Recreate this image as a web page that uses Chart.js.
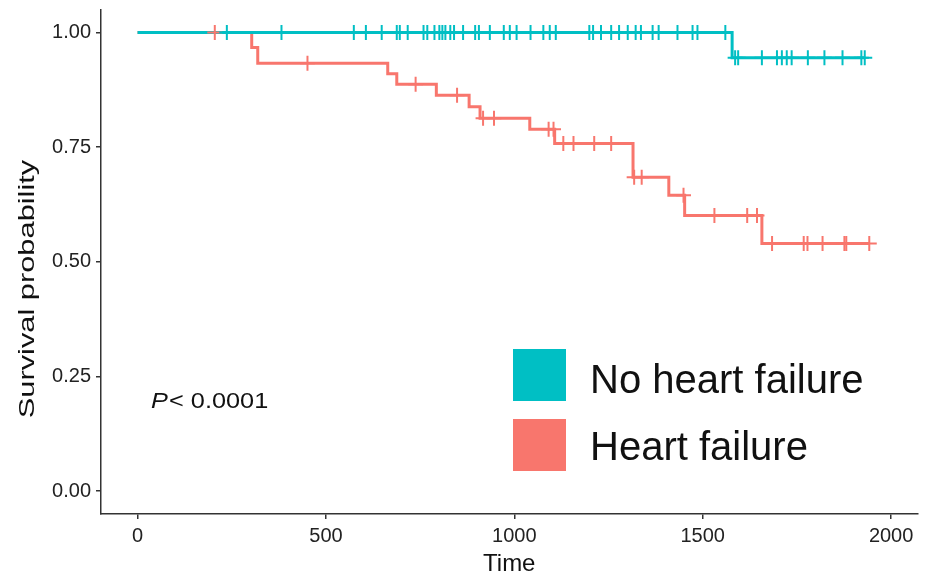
<!DOCTYPE html>
<html lang="en">
<head>
<meta charset="UTF-8" />
<title>Survival probability by heart failure</title>
<script src="https://cdn.jsdelivr.net/npm/chart.js"></script>
<style>
  body { margin: 0; background: #fff; }
  canvas { display: block; }
</style>
</head>
<body>
<canvas id="kmChart" width="927" height="576"></canvas>
<script>
// group names (legend order)
const groupNames = ["No heart failure", "Heart failure"];

// No heart failure: step times / survival after each step
const noHfStepTimes = [0, 1578];
const noHfSurvival = [1, 0.945];
const noHfEnd = 1930;
const noHfCensored = [237, 382, 574, 606, 648, 688, 696, 717, 759, 769, 788, 801, 809, 817,
  830, 840, 864, 896, 906, 935, 972, 988, 1006, 1043, 1077, 1094, 1110, 1199, 1209, 1230,
  1257, 1278, 1301, 1322, 1336, 1367, 1383, 1433, 1473, 1486, 1560, 1586, 1594, 1657, 1697,
  1710, 1723, 1736, 1779, 1823, 1871, 1921, 1930];

// Heart failure
const hfStepTimes = [0, 303, 319, 664, 688, 793, 880, 909, 1041, 1107, 1315, 1410, 1452, 1657];
const hfSurvival = [1, 0.967, 0.933, 0.910, 0.887, 0.863, 0.838, 0.813, 0.789, 0.758, 0.684, 0.645, 0.601, 0.540];
const hfEnd = 1942;
const hfCensored = [205, 451, 738, 848, 917, 946, 1091, 1104, 1130, 1157, 1212, 1257, 1318,
  1338, 1449, 1531, 1618, 1644, 1684, 1768, 1778, 1818, 1876, 1881, 1942];

const xTicks = [0, 500, 1000, 1500, 2000];
const yTicks = [0, 0.25, 0.5, 0.75, 1];
const pValueText = "< 0.0001";

const teal = "#00BFC4";
const salmon = "#F8766D";
const fontFam = "'Liberation Sans', Arial, sans-serif";
Chart.defaults.font.family = fontFam;

const curvePoints = (times, surv, end) =>
  times.map((t, i) => ({ x: t, y: surv[i] })).concat([{ x: end, y: surv[surv.length - 1] }]);

const survAt = (times, surv, t) => {
  let s = surv[0];
  times.forEach((tt, i) => { if (tt <= t) s = surv[i]; });
  return s;
};

const censorPoints = (times, surv, cens) =>
  cens.map((t) => ({ x: t, y: survAt(times, surv, t) }));

// legend, p value and y title drawn on top
const extras = {
  id: "extras",
  afterDraw(chart) {
    const ctx = chart.ctx;
    ctx.save();
    ctx.fillStyle = teal;
    ctx.fillRect(513, 349, 53, 52);
    ctx.fillStyle = salmon;
    ctx.fillRect(513, 419, 53, 52);
    ctx.fillStyle = "#111";
    ctx.font = "40px " + fontFam;
    ctx.textBaseline = "alphabetic";
    ctx.fillText(groupNames[0], 590, 393);
    ctx.fillText(groupNames[1], 590, 460);

    // p value
    ctx.save();
    ctx.translate(151, 408);
    ctx.scale(1.15, 1);
    ctx.font = "italic 22px " + fontFam;
    ctx.fillText("P", 0, 0);
    const px = ctx.measureText("P").width + 1;
    ctx.font = "22px " + fontFam;
    ctx.fillText(pValueText, px, 0);
    ctx.restore();

    // y axis title, stretched like the original
    ctx.translate(34, 289);
    ctx.rotate(-Math.PI / 2);
    ctx.scale(1.4, 1);
    ctx.font = "22px " + fontFam;
    ctx.textAlign = "center";
    ctx.fillText("Survival probability", 0, 0);
    ctx.restore();
  }
};

const axisCommon = {
  type: "linear",
  grid: { drawOnChartArea: false, drawTicks: true, tickLength: 5, color: "#333", lineWidth: 1.5 },
  border: { display: true, color: "#333", width: 1.5 },
};

new Chart(document.getElementById("kmChart").getContext("2d"), {
  type: "line",
  data: {
    datasets: [
      {
        label: groupNames[0] + " censored",
        data: censorPoints(noHfStepTimes, noHfSurvival, noHfCensored),
        showLine: false,
        pointStyle: "cross",
        pointRadius: 7.5,
        pointBorderWidth: 2,
        pointBorderColor: teal,
        order: 0,
      },
      {
        label: groupNames[1] + " censored",
        data: censorPoints(hfStepTimes, hfSurvival, hfCensored),
        showLine: false,
        pointStyle: "cross",
        pointRadius: 7.5,
        pointBorderWidth: 2,
        pointBorderColor: salmon,
        order: 1,
      },
      {
        label: groupNames[0],
        data: curvePoints(noHfStepTimes, noHfSurvival, noHfEnd),
        stepped: "before",
        borderColor: teal,
        borderWidth: 3,
        pointRadius: 0,
        fill: false,
        order: 2,
      },
      {
        label: groupNames[1],
        data: curvePoints(hfStepTimes, hfSurvival, hfEnd),
        stepped: "before",
        borderColor: salmon,
        borderWidth: 3,
        pointRadius: 0,
        fill: false,
        order: 3,
      },
    ],
  },
  options: {
    responsive: false,
    animation: false,
    layout: { padding: { top: 9, right: 2, left: 0, bottom: 0 } },
    plugins: { legend: { display: false }, tooltip: { enabled: false } },
    scales: {
      x: {
        ...axisCommon,
        min: -97,
        max: 2070,
        afterBuildTicks: (s) => { s.ticks = xTicks.map((v) => ({ value: v })); },
        afterFit: (s) => { s.height = 62; s.paddingLeft = 0; s.paddingRight = 0; },
        ticks: { color: "#222", font: { size: 20 }, padding: 5, maxRotation: 0, callback: (v) => String(v) },
        title: { display: true, text: "Time", color: "#111", font: { size: 24 }, padding: { top: 0, bottom: -3 } },
      },
      y: {
        ...axisCommon,
        min: -0.05,
        max: 1.05,
        afterBuildTicks: (s) => { s.ticks = yTicks.map((v) => ({ value: v })); },
        afterFit: (s) => { s.width = 101; s.paddingTop = 0; s.paddingBottom = 0; },
        ticks: { color: "#222", font: { size: 20 }, padding: 5, callback: (v) => v.toFixed(2) },
      },
    },
  },
  plugins: [extras],
});
</script>
</body>
</html>
